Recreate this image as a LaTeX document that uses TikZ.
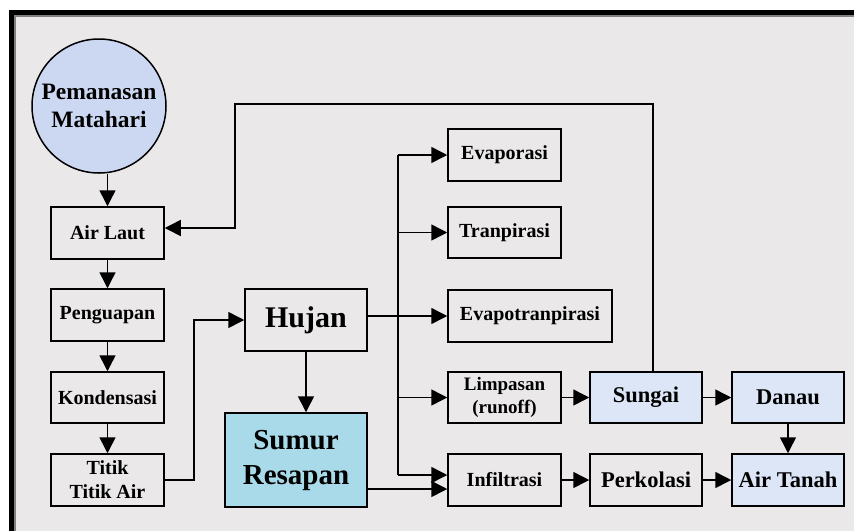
\documentclass[tikz,border=0pt]{standalone}
\usepackage{fontspec}
\setmainfont{Liberation Serif}
\usetikzlibrary{arrows.meta,calc}
\definecolor{bgc}{HTML}{EAE8E8}
\definecolor{sunc}{HTML}{CCD8F2}
\definecolor{sumurc}{HTML}{A9DAEA}
\definecolor{lbc}{HTML}{DCE6F7}
\tikzset{
  bx/.style={draw, line width=1.5pt, inner sep=0pt, align=center, font=\bfseries\fontsize{20}{24}\selectfont},
  bxb/.style={bx, fill=lbc, font=\bfseries\fontsize{22.5}{26}\selectfont},
  ln/.style={line width=1.5pt},
  arr/.style={line width=1.5pt, -{Triangle[width=16pt,length=16pt]}},
}
\begin{document}
\begin{tikzpicture}[x=1pt,y=-1pt]
\useasboundingbox (0,0) rectangle (854,531);
\fill[white] (0,0) rectangle (854,531);
\fill[bgc] (9,10) rectangle (854,531);
\draw[line width=4.5pt] (11.25,531) -- (11.25,12.25) -- (854,12.25);
\draw[line width=1.2pt, gray] (15,531) -- (15,16) -- (854,16);

\node[draw, circle, line width=1.5pt, fill=sunc, minimum size=134pt, inner sep=0pt, align=center,
  font=\bfseries\fontsize{23.5}{28}\selectfont] (sun) at (99,106) {Pemanasan\\Matahari};

\node[bx, minimum width=113pt, minimum height=52pt] (laut) at (107.5,233) {Air Laut};
\node[bx, minimum width=113pt, minimum height=52pt] (uap) at (107.5,315) {Penguapan};
\node[bx, minimum width=113pt, minimum height=51pt] (kond) at (107.5,397.5) {Kondensasi};
\node[bx, minimum width=113pt, minimum height=52pt] (titik) at (107.5,480) {Titik\\Titik Air};

\node[bx, minimum width=122pt, minimum height=62pt, font=\bfseries\fontsize{30}{34}\selectfont] (hujan) at (306,320) {Hujan};
\node[bx, fill=sumurc, minimum width=142pt, minimum height=94pt, font=\bfseries\fontsize{29}{35}\selectfont] (sumur) at (296,460) {Sumur\\Resapan};

\node[bx, minimum width=113pt, minimum height=52pt] (evap) at (504.5,155) {Evaporasi};
\node[bx, minimum width=113pt, minimum height=51pt] (tran) at (504.5,232.5) {Tranpirasi};
\node[bx, minimum width=164pt, minimum height=52pt] (evapt) at (530,316) {Evapotranpirasi};
\node[bx, minimum width=113pt, minimum height=51pt, font=\bfseries\fontsize{19}{23}\selectfont] (limp) at (504.5,397.5) {Limpasan\\(runoff)};
\node[bx, minimum width=113pt, minimum height=52pt] (infil) at (504.5,480) {Infiltrasi};

\node[bxb, minimum width=112pt, minimum height=51pt] (sungai) at (646,397.5) {Sungai};
\node[bxb, minimum width=112pt, minimum height=51pt] (danau) at (788,397.5) {Danau};
\node[bx, minimum width=112pt, minimum height=52pt, font=\bfseries\fontsize{22.5}{26}\selectfont] (perk) at (646,480) {Perkolasi};
\node[bxb, minimum width=112pt, minimum height=52pt] (tanah) at (788,480) {Air Tanah};

% left column
\draw[arr] (laut.north |- sun.south) -- (laut.north);
\draw[arr] (laut) -- (uap);
\draw[arr] (uap) -- (kond);
\draw[arr] (kond) -- (titik);
\draw[arr] (titik.east) -- ++(29,0) |- (hujan.west);
\draw[arr] (hujan.south) -- (hujan.south |- sumur.north);

% bus
\coordinate (bus) at (398,0);
\coordinate (inA) at ($(infil.west)+(0,-5)$);
\coordinate (inB) at ($(infil.west)+(0,9)$);
\draw[arr] (hujan.east |- evapt.west) -- (evapt.west);
\draw[ln] (bus |- evap.west) -- (bus |- inA);
\draw[arr] (bus |- evap.west) -- (evap.west);
\draw[arr] (bus |- tran.west) -- (tran.west);
\draw[arr] (bus |- limp.west) -- (limp.west);
\draw[arr] (bus |- inA) -- (inA);
\draw[arr] (sumur.east |- inB) -- (inB);

% right part
\draw[arr] (limp) -- (sungai);
\draw[arr] (sungai) -- (danau);
\draw[arr] (danau) -- (tanah);
\draw[arr] (infil) -- (perk);
\draw[arr] (perk) -- (tanah);

\coordinate (top) at (235,104);
\draw[arr] ([xshift=7pt]sungai.north) |- (top) |- ([yshift=5pt]laut.east);
\end{tikzpicture}
\end{document}
